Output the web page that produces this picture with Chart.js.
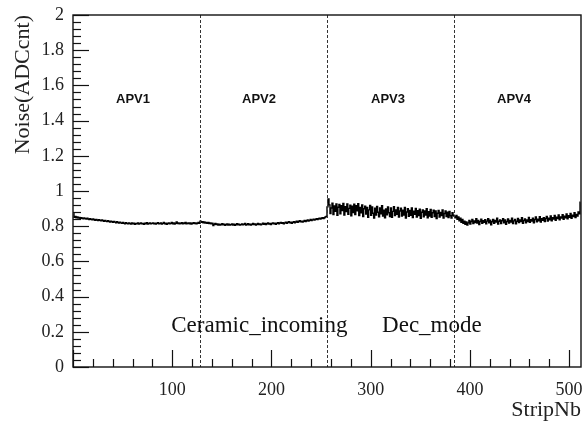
<!DOCTYPE html>
<html lang="en">

<head>
    <meta charset="UTF-8">
    <title>Noise per strip</title>
    <script src="https://cdn.jsdelivr.net/npm/chart.js"></script>
</head>

<body style="margin: 0; background: #fff; overflow: hidden;">
    <div style="width: 586px; height: 423px; position: relative;">
        <canvas id="noiseChart"></canvas>
    </div>

    <script>
        // noise (ADC counts) per strip, one array per APV chip (128 strips each)
        const apv1 = [
            0.872, 0.851, 0.856, 0.848, 0.853, 0.846, 0.850, 0.844, 0.849, 0.845, 0.842, 0.847, 0.843, 0.840, 0.845, 0.841,
            0.838, 0.843, 0.839, 0.836, 0.841, 0.837, 0.834, 0.839, 0.835, 0.832, 0.837, 0.833, 0.830, 0.835, 0.831, 0.828,
            0.833, 0.829, 0.826, 0.831, 0.827, 0.824, 0.829, 0.825, 0.822, 0.827, 0.823, 0.820, 0.825, 0.821, 0.818, 0.823,
            0.819, 0.816, 0.821, 0.817, 0.814, 0.820, 0.816, 0.813, 0.819, 0.815, 0.812, 0.818, 0.814, 0.817, 0.811, 0.816,
            0.813, 0.818, 0.812, 0.815, 0.819, 0.813, 0.816, 0.811, 0.817, 0.814, 0.820, 0.812, 0.815, 0.818, 0.813, 0.816,
            0.819, 0.814, 0.817, 0.812, 0.816, 0.820, 0.813, 0.815, 0.818, 0.812, 0.816, 0.821, 0.814, 0.817, 0.811, 0.815,
            0.819, 0.813, 0.816, 0.822, 0.814, 0.818, 0.812, 0.817, 0.824, 0.815, 0.819, 0.813, 0.816, 0.820, 0.814, 0.818,
            0.815, 0.821, 0.813, 0.817, 0.819, 0.814, 0.818, 0.812, 0.816, 0.820, 0.815, 0.818, 0.813, 0.817, 0.821, 0.816
        ];
        const apv2 = [
            0.828, 0.822, 0.826, 0.819, 0.824, 0.818, 0.822, 0.816, 0.821, 0.815, 0.819, 0.813, 0.817, 0.803, 0.811, 0.815,
            0.809, 0.813, 0.807, 0.812, 0.806, 0.810, 0.814, 0.808, 0.811, 0.805, 0.810, 0.813, 0.807, 0.812, 0.806, 0.809,
            0.813, 0.807, 0.811, 0.805, 0.810, 0.814, 0.808, 0.812, 0.806, 0.809, 0.813, 0.808, 0.811, 0.815, 0.807, 0.810,
            0.814, 0.808, 0.812, 0.806, 0.811, 0.815, 0.809, 0.813, 0.807, 0.811, 0.816, 0.810, 0.813, 0.808, 0.812, 0.817,
            0.811, 0.815, 0.809, 0.814, 0.818, 0.812, 0.816, 0.810, 0.815, 0.819, 0.813, 0.817, 0.811, 0.816, 0.820, 0.814,
            0.818, 0.822, 0.816, 0.820, 0.814, 0.819, 0.823, 0.817, 0.821, 0.825, 0.819, 0.823, 0.817, 0.822, 0.826, 0.820,
            0.824, 0.828, 0.822, 0.827, 0.831, 0.825, 0.829, 0.823, 0.828, 0.832, 0.826, 0.831, 0.835, 0.829, 0.833, 0.838,
            0.832, 0.836, 0.840, 0.835, 0.839, 0.843, 0.838, 0.842, 0.846, 0.841, 0.845, 0.849, 0.844, 0.848, 0.852, 0.856
        ];
        const apv3 = [
            0.910, 0.955, 0.921, 0.872, 0.903, 0.931, 0.866, 0.915, 0.884, 0.927, 0.862, 0.908, 0.924, 0.871, 0.917, 0.889,
            0.929, 0.864, 0.911, 0.883, 0.926, 0.868, 0.901, 0.920, 0.859, 0.913, 0.878, 0.925, 0.866, 0.916, 0.887, 0.928,
            0.861, 0.907, 0.876, 0.921, 0.855, 0.899, 0.914, 0.869, 0.906, 0.851, 0.893, 0.918, 0.862, 0.909, 0.874, 0.846,
            0.902, 0.863, 0.912, 0.879, 0.853, 0.904, 0.870, 0.916, 0.857, 0.891, 0.848, 0.898, 0.865, 0.910, 0.876, 0.855,
            0.903, 0.851, 0.884, 0.911, 0.860, 0.893, 0.868, 0.907, 0.852, 0.886, 0.902, 0.857, 0.891, 0.864, 0.906, 0.847,
            0.881, 0.899, 0.856, 0.890, 0.862, 0.904, 0.849, 0.885, 0.867, 0.901, 0.852, 0.888, 0.860, 0.897, 0.845, 0.879,
            0.893, 0.853, 0.886, 0.864, 0.900, 0.848, 0.882, 0.858, 0.895, 0.851, 0.876, 0.891, 0.855, 0.887, 0.844, 0.874,
            0.889, 0.852, 0.878, 0.861, 0.893, 0.847, 0.872, 0.886, 0.855, 0.879, 0.849, 0.884, 0.859, 0.846, 0.876, 0.862
        ];
        const apv4 = [
            0.856, 0.848, 0.861, 0.839, 0.852, 0.831, 0.845, 0.822, 0.838, 0.816, 0.829, 0.811, 0.824, 0.806, 0.819, 0.833,
            0.812, 0.827, 0.838, 0.815, 0.830, 0.821, 0.842, 0.818, 0.833, 0.809, 0.826, 0.840, 0.816, 0.831, 0.822, 0.837,
            0.814, 0.829, 0.842, 0.819, 0.834, 0.808, 0.825, 0.839, 0.817, 0.832, 0.823, 0.845, 0.812, 0.828, 0.836, 0.815,
            0.831, 0.843, 0.820, 0.835, 0.811, 0.827, 0.841, 0.818, 0.833, 0.824, 0.846, 0.815, 0.830, 0.838, 0.813, 0.828,
            0.844, 0.821, 0.836, 0.826, 0.848, 0.817, 0.832, 0.841, 0.819, 0.835, 0.827, 0.850, 0.822, 0.837, 0.829, 0.845,
            0.820, 0.838, 0.852, 0.825, 0.840, 0.831, 0.854, 0.823, 0.842, 0.833, 0.848, 0.826, 0.844, 0.856, 0.829, 0.846,
            0.837, 0.858, 0.831, 0.849, 0.840, 0.861, 0.834, 0.851, 0.843, 0.864, 0.836, 0.853, 0.846, 0.866, 0.839, 0.857,
            0.848, 0.869, 0.842, 0.860, 0.851, 0.872, 0.845, 0.863, 0.855, 0.876, 0.849, 0.867, 0.858, 0.881, 0.870, 0.936
        ];

        const apvNames = ['APV1', 'APV2', 'APV3', 'APV4'];
        const apvLabelX = [60.5, 187.5, 317.5, 444.5];
        const apvEdges = [128, 256, 384];
        const xTickLabels = [100, 200, 300, 400, 500];
        const notes = [
            { text: 'Ceramic_incoming', x: 99, y: 0.2 },
            { text: 'Dec_mode', x: 311.5, y: 0.2 }
        ];

        const noise = apv1.concat(apv2, apv3, apv4);
        // bin centres of strips 0..511
        const points = noise.map((v, i) => ({ x: i + 0.5, y: v }));

        const serif = "'Liberation Serif', 'DejaVu Serif', serif";

        // frame, ROOT style inner ticks, APV separators and text
        const rootDecor = {
            id: 'rootDecor',
            afterDatasetsDraw(chart) {
                const ctx = chart.ctx;
                const a = chart.chartArea;
                const xs = chart.scales.x;
                const ys = chart.scales.y;
                ctx.save();

                // APV boundaries
                ctx.strokeStyle = '#333';
                ctx.lineWidth = 1;
                ctx.setLineDash([3, 2]);
                apvEdges.forEach(e => {
                    const px = Math.round(xs.getPixelForValue(e)) + 0.5;
                    ctx.beginPath();
                    ctx.moveTo(px, a.top);
                    ctx.lineTo(px, a.bottom);
                    ctx.stroke();
                });
                ctx.setLineDash([]);

                // ticks on x: every 20, long every 100
                ctx.strokeStyle = '#111';
                ctx.lineWidth = 1.2;
                for (let v = 0; v <= 512; v += 20) {
                    const px = Math.round(xs.getPixelForValue(v)) + 0.5;
                    const len = v % 100 === 0 ? 17 : 8;
                    ctx.beginPath();
                    ctx.moveTo(px, a.bottom);
                    ctx.lineTo(px, a.bottom - len);
                    ctx.stroke();
                }
                // ticks on y: every 0.04, long every 0.2
                for (let k = 0; k <= 50; k++) {
                    const py = Math.round(ys.getPixelForValue(k * 0.04)) + 0.5;
                    const len = k % 5 === 0 ? 16 : 8;
                    ctx.beginPath();
                    ctx.moveTo(a.left, py);
                    ctx.lineTo(a.left + len, py);
                    ctx.stroke();
                }

                // frame
                ctx.lineWidth = 1.4;
                ctx.strokeStyle = '#111';
                ctx.strokeRect(a.left, a.top, a.right - a.left, a.bottom - a.top);

                // chip names
                ctx.fillStyle = '#111';
                ctx.font = "bold 13px 'Liberation Sans', Arial, sans-serif";
                ctx.textAlign = 'center';
                ctx.textBaseline = 'middle';
                apvNames.forEach((n, i) => {
                    ctx.fillText(n, xs.getPixelForValue(apvLabelX[i]), ys.getPixelForValue(1.523));
                });

                // run notes
                ctx.font = '23px ' + serif;
                ctx.textAlign = 'left';
                ctx.textBaseline = 'alphabetic';
                notes.forEach(n => {
                    ctx.fillText(n.text, xs.getPixelForValue(n.x), ys.getPixelForValue(n.y));
                });
                ctx.restore();
            }
        };

        const noiseCtx = document.getElementById('noiseChart').getContext('2d');
        const noiseChart = new Chart(noiseCtx, {
            type: 'line',
            data: {
                datasets: [{
                    label: 'Noise',
                    data: points,
                    borderColor: '#000',
                    borderWidth: 1.4,
                    pointRadius: 0,
                    stepped: 'middle',
                    fill: false
                }]
            },
            options: {
                responsive: true,
                maintainAspectRatio: false,
                animation: false,
                layout: {
                    padding: { top: 15, right: 5, left: 0, bottom: 0 }
                },
                scales: {
                    x: {
                        type: 'linear',
                        min: 0,
                        max: 512,
                        afterFit: s => {
                            s.height = 56;
                            s.paddingLeft = 0;
                            s.paddingRight = 0;
                        },
                        afterBuildTicks: s => { s.ticks = xTickLabels.map(v => ({ value: v })); },
                        grid: { display: false, drawTicks: false },
                        border: { display: false },
                        ticks: {
                            padding: 12,
                            color: '#222',
                            font: { family: serif, size: 18 },
                            maxRotation: 0
                        },
                        title: {
                            display: true,
                            text: 'StripNb',
                            align: 'end',
                            color: '#222',
                            font: { family: serif, size: 22 },
                            padding: 0
                        }
                    },
                    y: {
                        min: 0,
                        max: 2,
                        afterFit: s => {
                            s.width = 73;
                            s.paddingTop = 0;
                            s.paddingBottom = 0;
                        },
                        grid: { display: false, drawTicks: false },
                        border: { display: false },
                        ticks: {
                            stepSize: 0.2,
                            padding: 9,
                            color: '#222',
                            font: { family: serif, size: 18 },
                            callback: v => String(Math.round(v * 10) / 10)
                        },
                        title: {
                            display: true,
                            text: 'Noise(ADCcnt)',
                            align: 'end',
                            color: '#222',
                            font: { family: serif, size: 22 },
                            padding: { top: 10, bottom: 0 }
                        }
                    }
                },
                plugins: {
                    legend: { display: false },
                    tooltip: { enabled: false }
                }
            },
            plugins: [rootDecor]
        });
    </script>
</body>

</html>
